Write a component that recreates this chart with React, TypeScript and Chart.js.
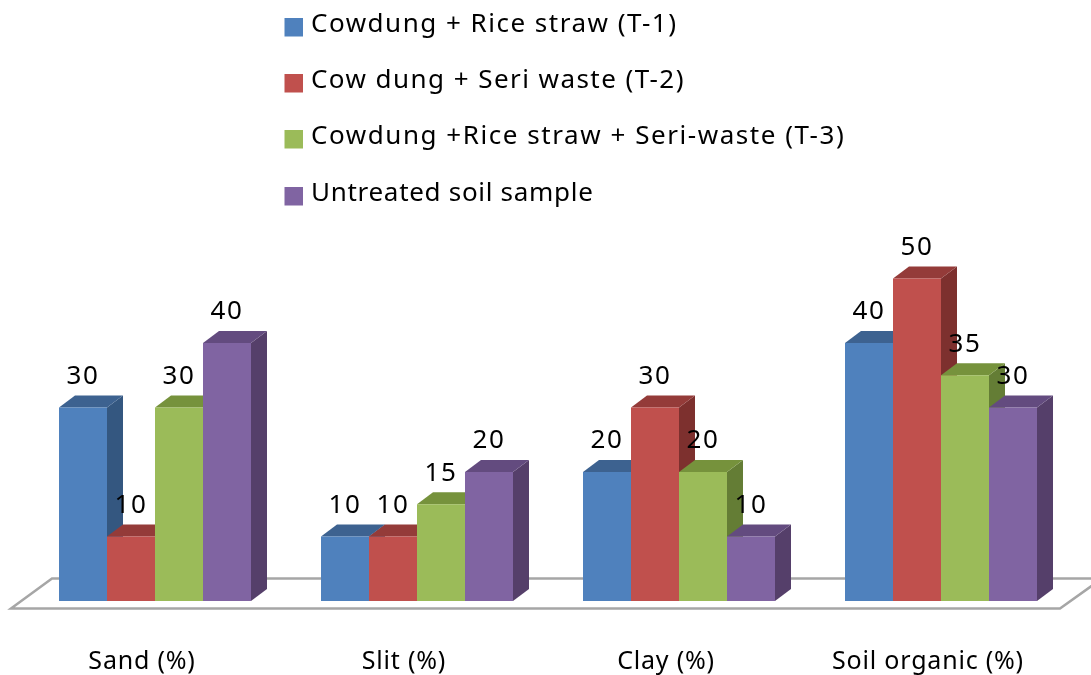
import React, { useEffect, useRef } from "react";
import { Chart, registerables } from "chart.js";

Chart.register(...registerables);

const categories = ["Sand (%)", "Slit (%)", "Clay (%)", "Soil organic (%)"];
const t1Label = "Cowdung + Rice straw (T-1)";
const t2Label = "Cow dung + Seri waste (T-2)";
const t3Label = "Cowdung +Rice straw + Seri-waste (T-3)";
const untreatedLabel = "Untreated soil sample";
const t1Values = [30, 10, 20, 40];
const t2Values = [10, 10, 30, 50];
const t3Values = [30, 15, 20, 35];
const untreatedValues = [40, 20, 10, 30];

const FONT = '"Noto Sans"';
const TEXT_SIZE = 26;
const TICK_SIZE = 25;
const TICK_SPACING = "0.8px";
const VALUE_SPACING = "1.6px";
const LEGEND_SPACING = ["1.5px", "1.44px", "1.55px", "0.7px"];

const shades = [
  { front: "#4F81BD", top: "#3D6290", side: "#345780" },
  { front: "#C0504D", top: "#943B39", side: "#7D302E" },
  { front: "#9BBB59", top: "#76923C", side: "#647D35" },
  { front: "#8064A2", top: "#634B7F", side: "#553F6A" },
];

const depthX = 16;
const depthY = 12;

const poly = (ctx: CanvasRenderingContext2D, pts: number[][], fill: string) => {
  ctx.beginPath();
  pts.forEach(([x, y], i) => (i ? ctx.lineTo(x, y) : ctx.moveTo(x, y)));
  ctx.closePath();
  ctx.fillStyle = fill;
  ctx.fill();
};

const threeD = {
  id: "threeD",
  beforeDraw(chart: any) {
    (chart.ctx as any).letterSpacing = TICK_SPACING;
  },
  beforeDatasetsDraw(chart: any) {
    const ctx = chart.ctx as CanvasRenderingContext2D;
    const base = chart.scales.y.getPixelForValue(0);
    const { left, right } = chart.chartArea;
    // floor
    ctx.save();
    ctx.strokeStyle = "#A6A6A6";
    ctx.lineWidth = 2.5;
    ctx.beginPath();
    ctx.moveTo(left + 28, base - 22.5);
    ctx.lineTo(right + 30, base - 22.5);
    ctx.lineTo(right - 12, base + 7.5);
    ctx.lineTo(left - 13, base + 7.5);
    ctx.closePath();
    ctx.stroke();
    ctx.restore();
    // sides and tops, left to right
    const n = chart.data.labels.length;
    for (let c = 0; c < n; c++) {
      chart.data.datasets.forEach((_: any, d: number) => {
        const el = chart.getDatasetMeta(d).data[c];
        const p = el.getProps(["x", "y", "base", "width"], true);
        const l = p.x - p.width / 2;
        const r = p.x + p.width / 2;
        poly(ctx, [[r, p.y], [r + depthX, p.y - depthY], [r + depthX, p.base - depthY], [r, p.base]], shades[d].side);
        poly(ctx, [[l, p.y], [l + depthX, p.y - depthY], [r + depthX, p.y - depthY], [r, p.y]], shades[d].top);
      });
    }
  },
  afterDatasetsDraw(chart: any) {
    const ctx = chart.ctx as any;
    ctx.save();
    ctx.fillStyle = "#000";
    ctx.font = `${TEXT_SIZE}px ${FONT}`;
    ctx.textAlign = "center";
    ctx.textBaseline = "middle";
    ctx.letterSpacing = VALUE_SPACING;
    chart.data.datasets.forEach((ds: any, d: number) => {
      chart.getDatasetMeta(d).data.forEach((el: any, i: number) => {
        ctx.fillText(String(ds.data[i]), el.x, el.y - 31);
      });
    });
    // legend
    ctx.textAlign = "left";
    chart.data.datasets.forEach((ds: any, d: number) => {
      const y = 27 + d * 56 + (d === 3 ? 1 : 0);
      ctx.fillStyle = shades[d].front;
      ctx.fillRect(284.5, y - 9, 18.5, 18.5);
      ctx.fillStyle = "#000";
      ctx.letterSpacing = LEGEND_SPACING[d];
      ctx.fillText(ds.label, 311, y - 2);
    });
    ctx.restore();
  },
};

export default function App() {
  const ref = useRef<HTMLCanvasElement>(null);
  useEffect(() => {
    const chart = new Chart(ref.current!, {
      type: "bar",
      data: {
        labels: categories,
        datasets: [
          { label: t1Label, data: t1Values, backgroundColor: shades[0].front },
          { label: t2Label, data: t2Values, backgroundColor: shades[1].front },
          { label: t3Label, data: t3Values, backgroundColor: shades[2].front },
          { label: untreatedLabel, data: untreatedValues, backgroundColor: shades[3].front },
        ],
      },
      options: {
        animation: false,
        responsive: false,
        layout: { padding: { left: 24, right: 19, top: 214, bottom: 0 } },
        datasets: { bar: { categoryPercentage: 0.7328, barPercentage: 1 } },
        plugins: { legend: { display: false }, tooltip: { enabled: false } },
        scales: {
          x: {
            afterFit(scale: any) {
              scale.height = 74;
            },
            grid: { display: false },
            border: { display: false },
            ticks: {
              autoSkip: false,
              maxRotation: 0,
              padding: 38,
              labelOffset: -13,
              color: "#000",
              font: { family: FONT, size: TICK_SIZE, lineHeight: 30 / TICK_SIZE },
            },
          },
          y: { display: false, min: 0, max: 60 },
        },
      },
      plugins: [threeD],
    } as any);
    return () => chart.destroy();
  }, []);
  return (
    <div style={{ position: "absolute", left: 0, top: 0, width: 1091, height: 675 }}>
      <canvas ref={ref} width={1091} height={675} style={{ display: "block" }} />
    </div>
  );
}
